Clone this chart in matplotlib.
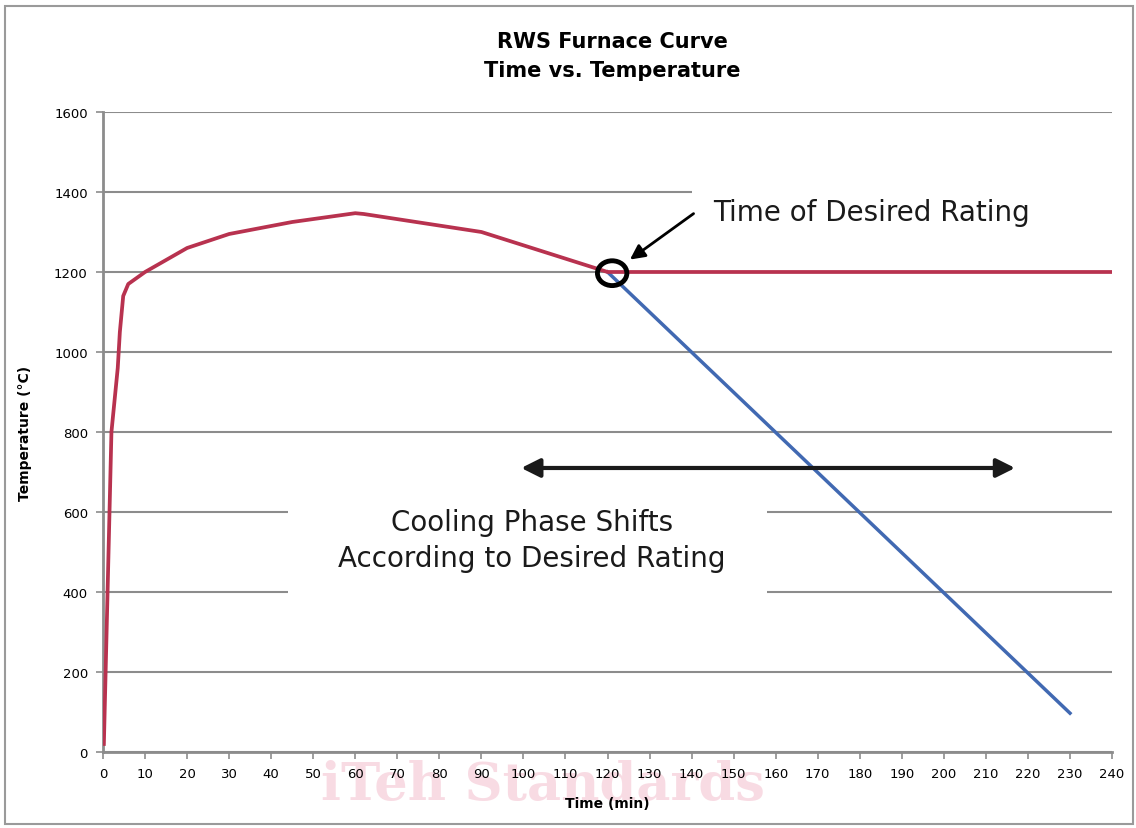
import numpy as np
import matplotlib
matplotlib.use("Agg")
import matplotlib.pyplot as plt
from matplotlib.patches import Rectangle, Ellipse

# furnace curve (red)
furnace_time = [0.2, 2, 3.5, 4, 4.8, 6, 10, 20, 30, 45, 60, 62, 90, 120, 240]
furnace_temp = [20, 800, 960, 1050, 1140, 1170, 1200, 1260, 1295, 1325, 1347, 1345, 1300, 1200, 1200]

# cooling phase (blue)
cooling_time = [120, 230]
cooling_temp = [1200, 97]

x_ticks = list(range(0, 241, 10))
y_ticks = list(range(0, 1601, 200))

red = '#b8324f'
blue = '#4169b2'
grid_gray = '#8c8c8c'

fig = plt.figure(figsize=(11.36, 8.29), dpi=100)
ax = fig.add_axes([0.0907, 0.0917, 0.8882, 0.772])
ax.patch.set_alpha(0)

ax.set_xlim(0, 240)
ax.set_ylim(0, 1600)
ax.set_xticks(x_ticks)
ax.set_yticks(y_ticks)
ax.tick_params(labelsize=9.5, length=5, width=1.2, color=grid_gray, pad=6)
ax.set_axisbelow(True)
ax.grid(axis='y', color=grid_gray, linewidth=1.5)
for s in ['top', 'right']:
    ax.spines[s].set_visible(False)
for s in ['left', 'bottom']:
    ax.spines[s].set_color(grid_gray)
    ax.spines[s].set_linewidth(2)

# white boxes hiding gridlines behind annotations
ax.add_patch(Rectangle((44, 300), 114, 350, facecolor='white', edgecolor='none', zorder=1))
ax.add_patch(Rectangle((140, 1320), 101, 120, facecolor='white', edgecolor='none', zorder=1,
                       clip_on=False))

ax.plot(cooling_time, cooling_temp, color=blue, linewidth=2.5, zorder=3)
ax.plot(furnace_time, furnace_temp, color=red, linewidth=2.7, zorder=4)

ax.add_patch(Ellipse((121.1, 1197), 7, 62, facecolor='none', edgecolor='black',
                     linewidth=3.5, zorder=5))
ax.annotate('', xy=(124.8, 1227), xytext=(141, 1350),
            arrowprops=dict(arrowstyle='-|>', color='black', lw=2, mutation_scale=22), zorder=5)
ax.text(145, 1350, 'Time of Desired Rating', fontsize=20, va='center', ha='left', color='#1a1a1a')

ax.annotate('', xy=(98.8, 710), xytext=(217.6, 710),
            arrowprops=dict(arrowstyle='<|-|>', color='#1a1a1a', lw=3, mutation_scale=28), zorder=5)
ax.text(102, 530, 'Cooling Phase Shifts\nAccording to Desired Rating', fontsize=20,
        ha='center', va='center', color='#1a1a1a', linespacing=1.35)

ax.set_xlabel('Time (min)', fontsize=10, fontweight='bold', labelpad=11)
ax.set_ylabel('Temperature (°C)', fontsize=10, fontweight='bold', labelpad=16)

fig.text(0.539, 0.932, 'RWS Furnace Curve\nTime vs. Temperature', ha='center', va='center',
         fontsize=15, fontweight='bold', linespacing=1.6)

# watermark, behind the axes
fig.text(0.478, 0.052, 'iTeh Standards', ha='center', va='center', fontsize=38,
         family='DejaVu Serif', fontweight='bold', color='#f7d3dd', alpha=0.8, zorder=-1)

fig.add_artist(Rectangle((0.004, 0.005), 0.993, 0.986, transform=fig.transFigure,
                         facecolor='none', edgecolor='#9a9a9a', linewidth=1.5))

fig.savefig('out.png', dpi=100)
